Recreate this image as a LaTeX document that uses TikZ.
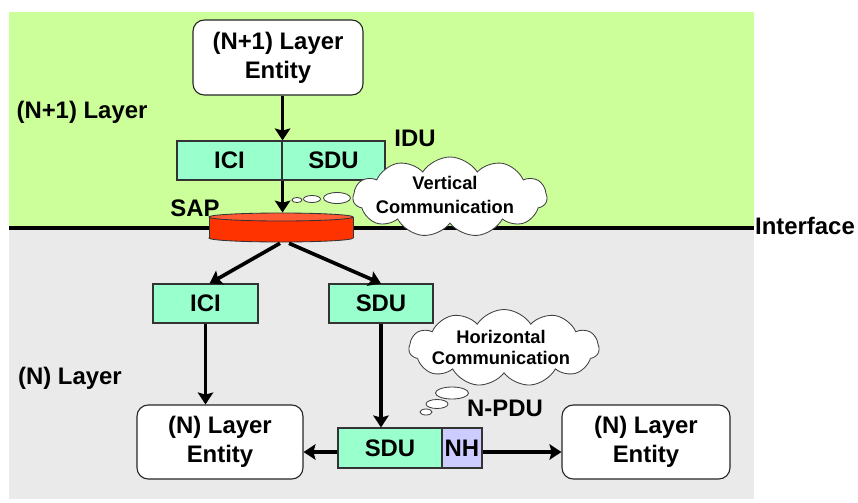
\documentclass[tikz,border=0pt]{standalone}
\usepackage{fontspec}
\setmainfont{Liberation Sans}
\usetikzlibrary{shapes.geometric,shapes.symbols,arrows.meta,calc}
\definecolor{bggreen}{HTML}{CCFF99}
\definecolor{bggray}{HTML}{EAEAEA}
\definecolor{boxgreen}{HTML}{99FFCC}
\definecolor{nhblue}{HTML}{CCCCFF}
\definecolor{sapred}{HTML}{FF3300}
\definecolor{saptop}{HTML}{FF5A33}
\newcommand\pxu{0.025cm}
\begin{document}
\begin{tikzpicture}[x=0.025cm,y=-0.025cm,
  every node/.style={font=\fontsize{17}{20.5}\selectfont\bfseries, inner sep=0pt},
  entity/.style={draw=black!85, fill=white, rounded corners=8pt, line width=0.8pt, align=center},
  box/.style={draw=black!80, fill=boxgreen, line width=0.8pt},
  lbl/.style={},
  cloudshape/.style={cloud, draw=black!75, fill=white, line width=0.6pt, cloud puffs=11, cloud puff arc=115, aspect=2.4},
  bubble/.style={ellipse, draw=black!75, fill=white, line width=0.6pt},
  arr/.style={line width=2.6pt, -{Stealth[length=8.5pt,width=11pt,inset=1.5pt]}}
]
\useasboundingbox (0,0) rectangle (858,502);
% backgrounds
\fill[bggreen] (9,12) rectangle (754,228);
\fill[bggray] (9,228) rectangle (754,499);

% layer labels
\node[lbl] (lN1) at (82,112) {(N+1) Layer};
\node[lbl] (lN) at (70,378) {(N) Layer};
\node[lbl] (lint) at (805,226) {Interface};
\node[lbl] (lidu) at (415,138) {IDU};
\node[lbl] (lsap) at (195,208) {SAP};
\node[lbl] (lnpdu) at (505,408) {N-PDU};

% interface line
\draw[line width=2.6pt] (9,228) -- (754,228);

% top entity
\node[entity, minimum width=170*\pxu, minimum height=75*\pxu] (top) at (278,57.5) {(N+1) Layer\\Entity};

% IDU
\node[box, minimum width=105*\pxu, minimum height=39*\pxu] (iciU) at (229.5,160.5) {ICI};
\node[box, minimum width=103*\pxu, minimum height=39*\pxu] (sduU) at (333.5,160.5) {SDU};

% SAP cylinder
\node[minimum width=144*\pxu, minimum height=29*\pxu] (sap) at (281,227.5) {};
\node[ellipse, draw=black!80, fill=sapred, line width=0.6pt, minimum width=144*\pxu, minimum height=8*\pxu] (sapbot) at (281,238) {};
\fill[sapred] (209,217) rectangle (353,238);
\draw[black!80, line width=0.6pt] (209,217) -- (209,238) (353,217) -- (353,238);
\node[ellipse, draw=black!80, fill=saptop, line width=0.6pt, minimum width=144*\pxu, minimum height=8*\pxu] (saptopn) at (281,217) {};

% vertical communication cloud
\node[cloudshape, minimum width=194*\pxu, minimum height=80*\pxu] (vcloud) at (450,197) {};
\node[font=\fontsize{13}{17}\selectfont\bfseries, align=center] (vtext) at (445,195) {Vertical\\Communication};
\node[bubble, minimum width=10*\pxu, minimum height=5*\pxu] (vb1) at (297,200) {};
\node[bubble, minimum width=17*\pxu, minimum height=7*\pxu] (vb2) at (312,199) {};
\node[bubble, minimum width=27*\pxu, minimum height=11*\pxu] (vb3) at (337,198) {};

% N layer boxes
\node[box, minimum width=105*\pxu, minimum height=39*\pxu] (ici) at (205.5,303.5) {ICI};
\node[box, minimum width=104*\pxu, minimum height=39*\pxu] (sdu) at (381,303.5) {SDU};

% horizontal communication cloud
\node[cloudshape, minimum width=190*\pxu, minimum height=77*\pxu] (hcloud) at (504,348) {};
\node[font=\fontsize{13}{15}\selectfont\bfseries, align=center] (htext) at (501,347.5) {Horizontal\\Communication};
\node[bubble, minimum width=33*\pxu, minimum height=12*\pxu] (hb1) at (452,393) {};
\node[bubble, minimum width=22*\pxu, minimum height=9*\pxu] (hb2) at (437,404) {};
\node[bubble, minimum width=12*\pxu, minimum height=6*\pxu] (hb3) at (426,412) {};

% entities bottom
\node[entity, minimum width=166*\pxu, minimum height=74*\pxu] (eL) at (220,442) {(N) Layer\\Entity};
\node[entity, minimum width=168*\pxu, minimum height=74*\pxu] (eR) at (646,442) {(N) Layer\\Entity};

% N-PDU
\node[box, minimum width=104*\pxu, minimum height=40*\pxu] (sdu2) at (390,448) {SDU};
\node[box, fill=nhblue, minimum width=40*\pxu, minimum height=40*\pxu] (nh) at (462,448) {NH};

% connectors
\draw[arr] (top.south -| iciU.east) -- (iciU.north east);
\draw[black!80, line width=0.8pt] (iciU.north east) -- (iciU.south east);
\draw[arr] (iciU.south east) -- (iciU.south east |- saptopn.north);
\draw[arr] ($(sap.south)+(-1,1)$) -- ($(ici.north)+(4,0)$);
\draw[arr] ($(sap.south)+(8,1)$) -- (sdu.north);
\draw[arr] (ici.south) -- (ici.south |- eL.north);
\draw[arr] (sdu.south) -- (sdu.south |- sdu2.north);
\draw[arr] (sdu2.west |- 0,452) -- (eL.east |- 0,452);
\draw[arr] (nh.east |- 0,452) -- (eR.west |- 0,452);
\end{tikzpicture}
\end{document}
